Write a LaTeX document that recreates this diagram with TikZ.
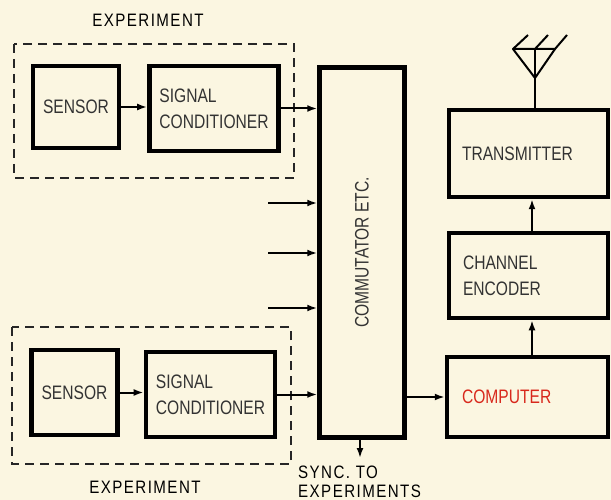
\documentclass[tikz,border=0pt]{standalone}
\usepackage{fontspec}
\setmainfont{Liberation Sans}
\newfontfamily\blkfont[FakeStretch=0.8]{Liberation Sans}
\newfontfamily\capfont[FakeStretch=0.84,LetterSpace=8]{Liberation Sans}
\usepackage{tikz}
\usetikzlibrary{arrows.meta,positioning}
\definecolor{bpaper}{HTML}{FBF6E1}
\definecolor{bred}{HTML}{D8281C}
\tikzset{
  >={Latex[length=10pt,width=7pt]},
  bblk/.style={draw=black, line width=4.5pt, fill=bpaper, align=left,
               inner xsep=10pt, inner ysep=0pt, text=black!80,
               font=\blkfont\fontsize{19.5}{26}\selectfont},
  bdash/.style={draw=black!85, line width=1.2pt, dash pattern=on 9pt off 6pt},
  barr/.style={->, line width=2pt},
  bant/.style={line width=2pt, line join=round},
  blbl/.style={font=\capfont\fontsize{18}{19}\selectfont, align=left, inner sep=0pt},
}

\begin{document}
\begin{tikzpicture}[x=1pt, y=-1pt]

  % papel
  \path[use as bounding box, fill=bpaper] (0,0) rectangle (611,500);
  \clip (0,0) rectangle (611,500);

  % experimento de cima
  \draw[bdash] (14,44) rectangle (294,178);
  \node[blbl] (expA) at (148,20) {EXPERIMENT};
  \node[bblk, minimum width=84pt, minimum height=82pt] (sensA) at (76,107) {SENSOR};
  \node[bblk, minimum width=126pt, minimum height=85pt] (condA) at (214,108.5) {SIGNAL\\CONDITIONER};

  % experimento de baixo
  \draw[bdash] (12,327) rectangle (291,464);
  \node[blbl] (expB) at (145,487) {EXPERIMENT};
  \node[bblk, minimum width=85pt, minimum height=85pt] (sensB) at (74.5,392.5) {SENSOR};
  \node[bblk, minimum width=125pt, minimum height=85pt] (condB) at (210.5,394.5) {SIGNAL\\CONDITIONER};

  % comutador
  \node[bblk, minimum width=85pt, minimum height=370pt] (comm) at (362,252.5)
       {\rotatebox{90}{COMMUTATOR ETC.}};
  \node[blbl, anchor=west] (sync) at (298,482) {SYNC. TO\\EXPERIMENTS};

  % lado do transmissor
  \node[bblk, inner xsep=13pt, text width=133pt, minimum height=87pt] (tx) at (528.5,153.5) {TRANSMITTER};
  \node[bblk, inner xsep=14pt, text width=131pt, minimum height=85pt] (enc) at (528.5,275.5) {CHANNEL\\ENCODER};
  \node[bblk, inner xsep=15pt, text width=131pt, minimum height=80pt, text=bred] (comp) at (527.5,397) {COMPUTER};

  % setas
  \draw[barr] (sensA.east) -- (sensA.east -| condA.west);
  \draw[barr] (condA.east) -- (condA.east -| comm.west);
  \draw[barr] (sensB.east) -- (sensB.east -| condB.west);
  \draw[barr] (condB.east) -- (condB.east -| comm.west);
  \foreach \y [count=\i] in {203,253,308} {
    \coordinate (in\i) at (268,\y);
    \draw[barr] (in\i) -- (in\i -| comm.west);
  }
  \coordinate (syncpt) at (360,458);
  \draw[barr] (comm.south -| syncpt) -- (syncpt);
  \draw[barr] (comm.east |- comp.west) -- (comp.west);
  \coordinate (upx) at (532,0);
  \draw[barr] (comp.north -| upx) -- (enc.south -| upx);
  \draw[barr] (enc.north -| upx) -- (tx.south -| upx);

  % antena
  \coordinate (ant) at (535,49);
  \draw[bant] (ant) -- (tx.north -| ant);
  \begin{scope}[shift={(ant)}]
    \draw[bant] (-22,0) -- (0,29) -- (20,0) -- cycle;
    \draw[bant] (-22,0) -- (-7,-14);
    \draw[bant] (0,0) -- (13,-14);
    \draw[bant] (20,0) -- (32,-14);
  \end{scope}

\end{tikzpicture}
\end{document}
